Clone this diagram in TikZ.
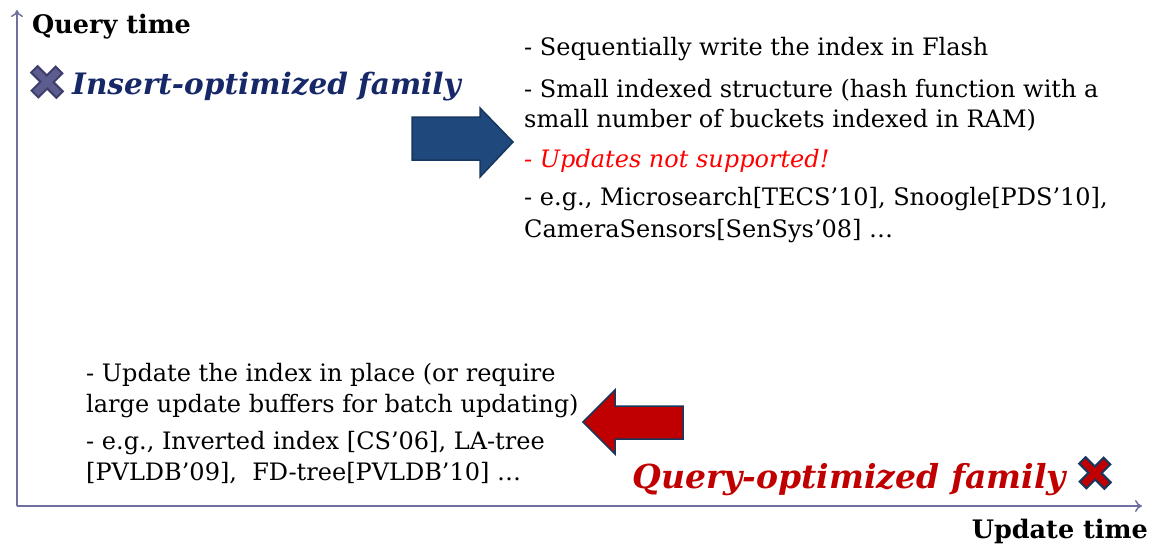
\documentclass[tikz,border=0pt]{standalone}
\usepackage{fontspec}
\setmainfont{DejaVu Serif}
\usetikzlibrary{arrows.meta}

\definecolor{axisblue}{RGB}{112,112,160}
\definecolor{navytext}{RGB}{22,40,104}
\definecolor{darkred}{RGB}{192,0,0}
\definecolor{brightred}{RGB}{255,0,0}
\definecolor{arrowblue}{RGB}{31,73,125}
\definecolor{arrowedge}{RGB}{23,55,94}
\definecolor{crossfill}{RGB}{92,92,142}
\definecolor{crossedge}{RGB}{62,62,110}

\tikzset{
  txt/.style={anchor=base west, inner sep=0pt, font=\fontsize{24}{28}\selectfont},
  axlabel/.style={inner sep=0pt, font=\fontsize{25.5}{30}\selectfont\bfseries},
  family/.style={inner sep=0pt, font=\fontsize{#1}{38}\selectfont\bfseries\itshape},
  axis/.style={axisblue, line width=1.5pt, -{To[length=7pt,width=12pt]}},
  crossmark/.pic={
    \path[pic actions, line width=2pt, rotate=45, yscale=1.05]
      (4.5,4.5) -- (4.5,17) -- (-4.5,17) -- (-4.5,4.5) -- (-17,4.5) -- (-17,-4.5)
      -- (-4.5,-4.5) -- (-4.5,-17) -- (4.5,-17) -- (4.5,-4.5) -- (17,-4.5) -- (17,4.5) -- cycle;
  }
}

\begin{document}
\begin{tikzpicture}[x=1pt,y=-1pt]
\useasboundingbox (0,0) rectangle (1152,547);

% axes
\coordinate (origin) at (17,506);
\coordinate (ytop) at (17,10);
\coordinate (xend) at (1142,506);
\draw[axis] (origin) -- (ytop);
\draw[axis] (origin) -- (xend);
\node[axlabel, anchor=base west] (qtime) at (32,33) {Query time};
\node[axlabel, anchor=base east] (utime) at (1148,538) {Update time};

% insert-optimized
\pic[fill=crossfill, draw=crossedge] at (47,82) {crossmark};
\node[family=29.5, anchor=base west, text=navytext] (insfam) at (72,94) {Insert-optimized family};

\draw[fill=arrowblue, draw=arrowedge, line width=1.5pt]
  (412,117) -- (480,117) -- (480,108) -- (513,142) -- (480,177) -- (480,160) -- (412,160) -- cycle;

\node[txt] (ins1) at (524,55) {- Sequentially write the index in Flash};
\node[txt] (ins2) at (524,97) {- Small indexed structure (hash function with a};
\node[txt] (ins3) at (524,127) {small number of buckets indexed in RAM)};
\node[txt, text=brightred, font=\fontsize{24}{28}\selectfont\itshape] (ins4) at (524,167) {- Updates not supported!};
\node[txt] (ins5) at (524,205) {- e.g., Microsearch[TECS’10], Snoogle[PDS’10],};
\node[txt] (ins6) at (524,237) {CameraSensors[SenSys’08] …};

% query-optimized
\node[txt] (qry1) at (86,381) {- Update the index in place (or require};
\node[txt] (qry2) at (86,412) {large update buffers for batch updating)};
\node[txt] (qry3) at (86,449) {- e.g., Inverted index [CS’06], LA-tree};
\node[txt] (qry4) at (86,480) {[PVLDB’09],\ \ FD-tree[PVLDB’10] …};

\draw[fill=darkred, draw=arrowedge, line width=1.5pt]
  (683,406) -- (615,406) -- (615,390) -- (583,422) -- (615,454) -- (615,439) -- (683,439) -- cycle;

\node[family=33, anchor=base east, text=darkred] (qryfam) at (1066,488) {Query-optimized family};
\pic[fill=darkred, draw=arrowedge] at (1095,473) {crossmark};
\end{tikzpicture}
\end{document}
